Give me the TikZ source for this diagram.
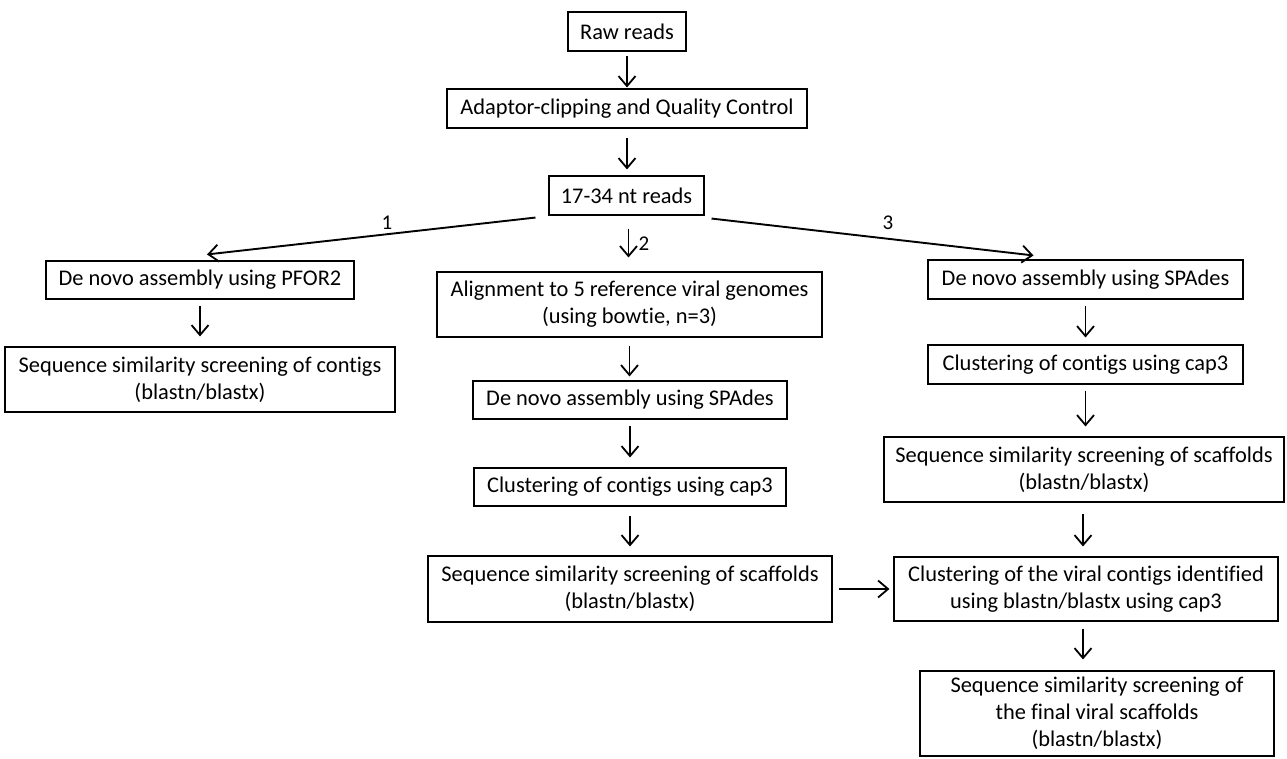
\documentclass[tikz,border=0pt]{standalone}
\usepackage{fontspec}
\setmainfont[Ligatures=NoCommon]{Carlito}
\usetikzlibrary{arrows.meta}
\begin{document}
\begin{tikzpicture}[x=1pt,y=-1pt,
  box/.style={draw, line width=1.1pt, inner sep=0pt, align=center, font=\fontsize{22.4}{27}\selectfont},
  arr/.style={-{Straight Barb[length=10pt,width=17pt,line width=1.8pt]}, line width=1.9pt},
  lbl/.style={font=\fontsize{21}{24}\selectfont, inner sep=0pt}]
\useasboundingbox (0,0) rectangle (1287,758);
% boxes
\node[box, minimum width=118pt, minimum height=39pt] (raw) at (627,31.5) {Raw reads};
\node[box, minimum width=360pt, minimum height=39pt] (adapt) at (627,108.5) {Adaptor-clipping and Quality Control};
\node[box, minimum width=155pt, minimum height=39pt] (reads) at (626.5,195.5) {17-34 nt reads};
\node[box, minimum width=308pt, minimum height=38pt] (pfor) at (200,280) {De novo assembly using PFOR2};
\node[box, minimum width=390pt, minimum height=65pt] (sscont) at (200,379.5) {Sequence similarity screening of contigs\\(blastn/blastx)};
\node[box, minimum width=385pt, minimum height=65pt] (align) at (629.5,304.5) {Alignment to 5 reference viral genomes\\(using bowtie, n=3)};
\node[box, minimum width=314pt, minimum height=38pt] (spadesM) at (630,400) {De novo assembly using SPAdes};
\node[box, minimum width=312pt, minimum height=38pt] (clustM) at (630,487) {Clustering of contigs using cap3};
\node[box, minimum width=404pt, minimum height=66pt] (ssM) at (630,589) {Sequence similarity screening of scaffolds\\(blastn/blastx)};
\node[box, minimum width=315pt, minimum height=39pt] (spadesR) at (1085.5,279.5) {De novo assembly using SPAdes};
\node[box, minimum width=315pt, minimum height=39pt] (clustR) at (1085.5,364.5) {Clustering of contigs using cap3};
\node[box, minimum width=400pt, minimum height=65pt] (ssR) at (1084,469.5) {Sequence similarity screening of scaffolds\\(blastn/blastx)};
\node[box, minimum width=384pt, minimum height=64pt] (clustV) at (1086,589) {Clustering of the viral contigs identified\\using blastn/blastx using cap3};
\node[box, minimum width=354pt, minimum height=85pt] (final) at (1097,713.5) {Sequence similarity screening of\\the final viral scaffolds\\(blastn/blastx)};
% vertical arrows
\draw[arr, shorten <=4pt, shorten >=1pt] (raw.south) -- (raw.south |- adapt.north);
\draw[arr, shorten <=9pt, shorten >=6pt] (adapt.south) -- (adapt.south |- reads.north);
\draw[arr, shorten <=13pt, shorten >=14pt] ([xshift=2pt]reads.south) -- ([xshift=2pt]reads.south |- align.north);
\draw[arr, shorten <=6pt, shorten >=10pt] (pfor.south) -- (pfor.south |- sscont.north);
\draw[arr, shorten <=8pt, shorten >=4pt] (align.south) -- (align.south |- spadesM.north);
\draw[arr, shorten <=6pt, shorten >=10pt] (spadesM.south) -- (spadesM.south |- clustM.north);
\draw[arr, shorten <=9pt, shorten >=9pt] (clustM.south) -- (clustM.south |- ssM.north);
\draw[arr, shorten <=6pt, shorten >=7pt] (spadesR.south) -- (spadesR.south |- clustR.north);
\draw[arr, shorten <=6pt, shorten >=10pt] (clustR.south) -- (clustR.south |- ssR.north);
\draw[arr, shorten <=11pt, shorten >=10pt] ([xshift=-1pt]ssR.south) -- ([xshift=-1pt]ssR.south |- clustV.north);
\draw[arr, shorten <=7pt, shorten >=11pt] ([xshift=-3pt]clustV.south) -- ([xshift=-3pt]clustV.south |- final.north);
% branch arrows
\draw[arr] ([xshift=-13pt,yshift=-2pt]reads.south west) -- ([xshift=7pt,yshift=6pt]pfor.north);
\draw[arr] ([xshift=7pt,yshift=-3pt]reads.south east) -- ([xshift=-52pt,yshift=4pt]spadesR.north);
\draw[arr, shorten <=6pt, shorten >=4pt] (ssM.east) -- (clustV.west);
% labels
\node[lbl] (l1) at (387,223) {1};
\node[lbl] (l2) at (644,244) {2};
\node[lbl] (l3) at (888,223) {3};
\end{tikzpicture}
\end{document}
